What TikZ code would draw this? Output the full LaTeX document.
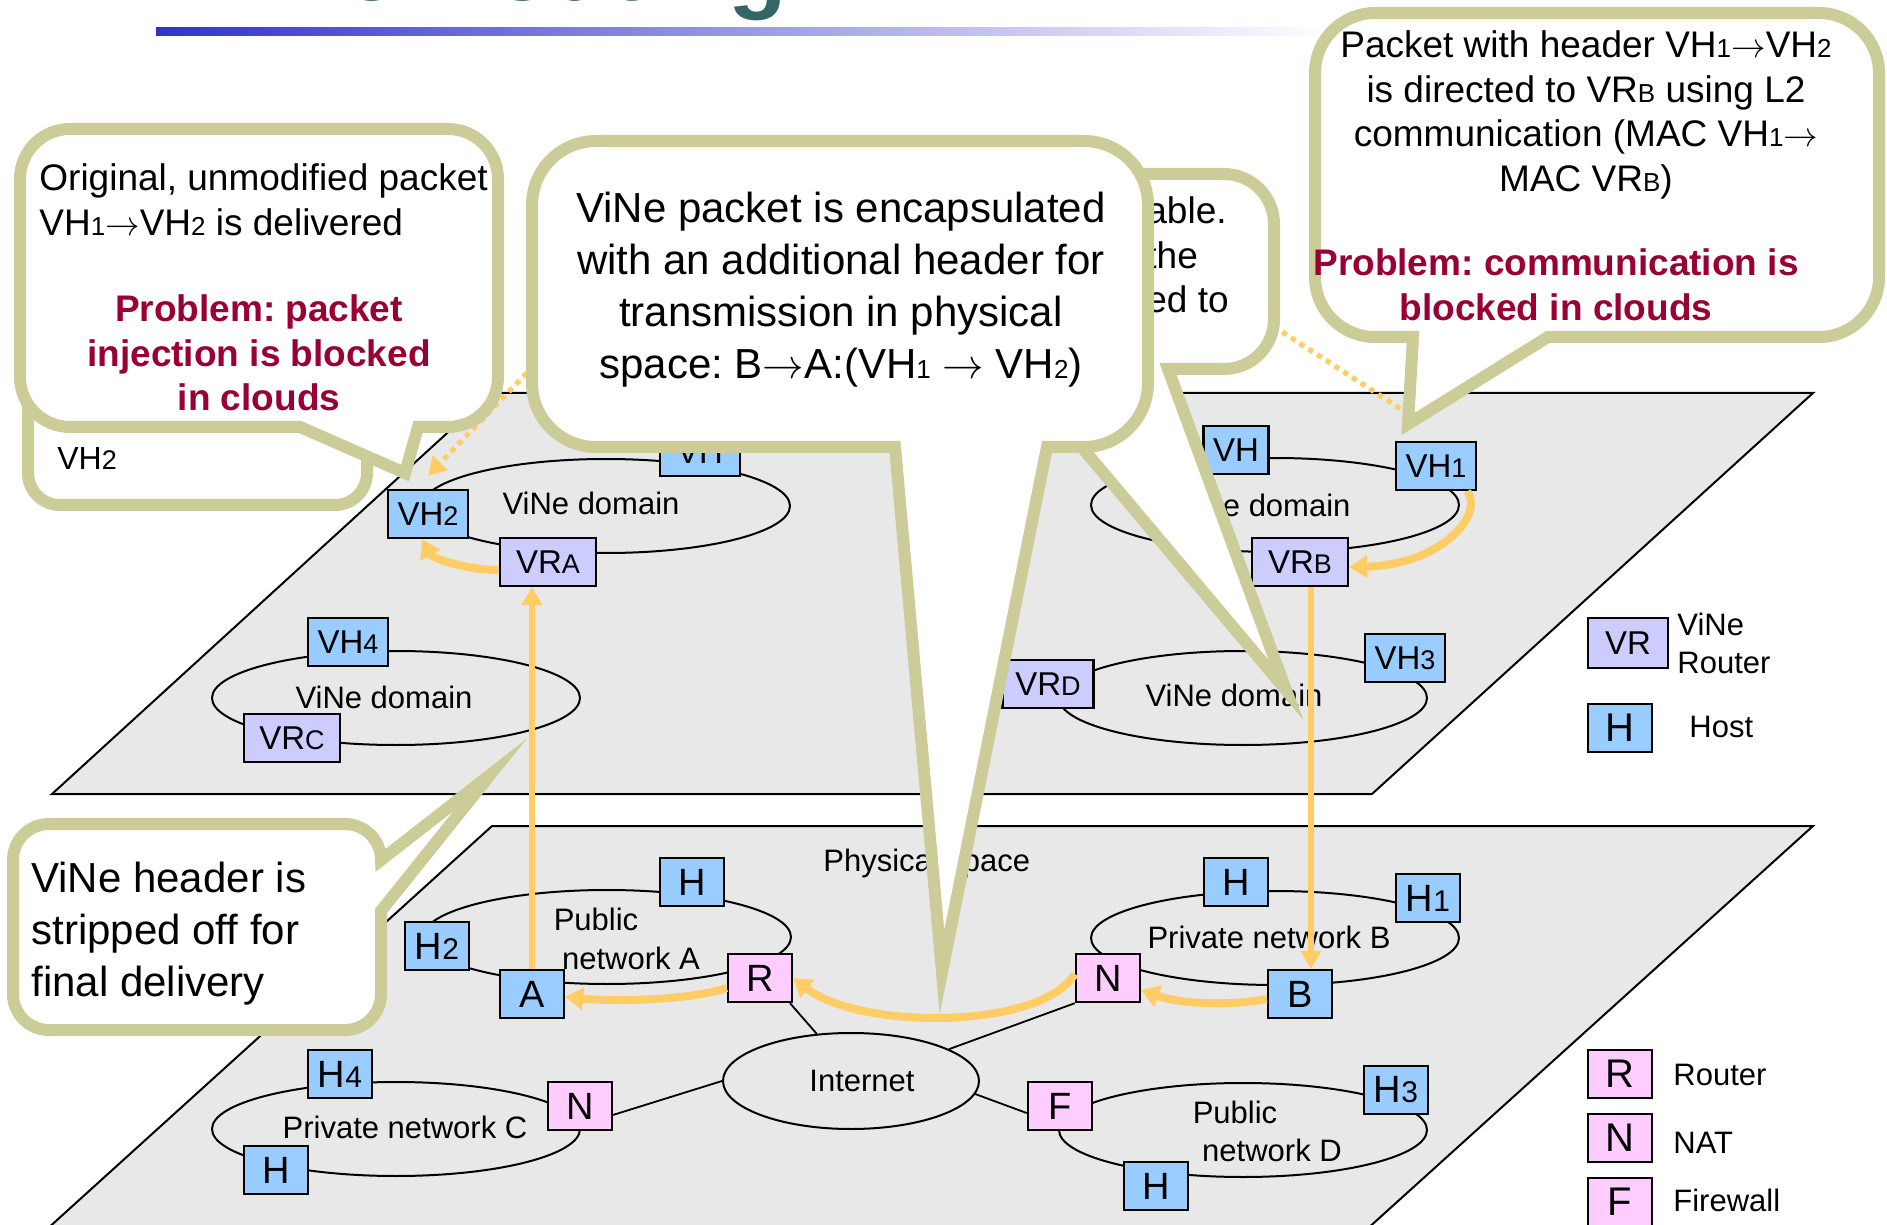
\documentclass[tikz,border=0pt]{standalone}
\usepackage{fontspec}
\setmainfont{Liberation Sans}
\usetikzlibrary{shapes.geometric,arrows.meta}

\definecolor{planegray}{RGB}{232,232,232}
\definecolor{hostblue}{RGB}{153,204,255}
\definecolor{vrlav}{RGB}{204,204,255}
\definecolor{netpink}{RGB}{255,204,255}
\definecolor{pathorange}{RGB}{255,204,102}
\definecolor{bubbleolive}{RGB}{204,204,153}
\definecolor{problemred}{RGB}{153,0,51}
\definecolor{titleteal}{RGB}{51,102,102}
\definecolor{barblue}{RGB}{51,51,204}

% smaller index characters, kept on the baseline
\newcommand{\calidx}[1]{{\fontsize{13pt}{13pt}\selectfont #1}}
\newcommand{\boxidx}[1]{{\fontsize{13.5pt}{13.5pt}\selectfont #1}}
\newcommand{\bigidx}[1]{{\fontsize{15pt}{15pt}\selectfont #1}}
% long thin arrow used in the packet headers
\newcommand{\hdrarrow}{$\rightarrow$}
\frenchspacing

\begin{document}
\begin{tikzpicture}[x=0.5pt,y=-0.5pt,
  planeface/.style={fill=planegray, draw=black, line width=1pt},
  domoval/.style={ellipse, draw=black, line width=1pt, inner sep=0pt,
                  minimum width=184pt, minimum height=47pt},
  lbl/.style={inner sep=0pt, font=\fontsize{15.5pt}{19pt}\selectfont},
  nbox/.style={draw=black, line width=1.2pt, inner sep=0pt, minimum height=24pt},
  hbox/.style={nbox, fill=hostblue},
  vrbox/.style={nbox, fill=vrlav},
  pbox/.style={nbox, fill=netpink},
  vtxt/.style={font=\fontsize{16.5pt}{18pt}\selectfont},
  ltxt/.style={font=\fontsize{19pt}{20pt}\selectfont, minimum width=32pt},
  lgtxt/.style={font=\fontsize{20pt}{21pt}\selectfont, minimum width=32pt},
  netlink/.style={draw=black, line width=0.9pt},
  flowv/.style={draw=pathorange, line width=2.8pt, -{Triangle[length=9pt,width=10pt]}},
  flowc/.style={draw=pathorange, line width=4pt, -{Triangle[length=9pt,width=11pt]}},
  flowdot/.style={draw=pathorange, line width=2.6pt, dash pattern=on 2.6pt off 2.6pt},
  bubble/.style={fill=white, draw=bubbleolive, line width=6pt, miter limit=20, line join=miter},
  ctxt/.style={inner sep=0pt, font=\fontsize{18.5pt}{22.3pt}\selectfont},
  cbig/.style={inner sep=0pt, font=\fontsize{21pt}{26pt}\selectfont},
  ptxt/.style={inner sep=0pt, text=problemred, font=\fontsize{18.5pt}{22.3pt}\selectfont\bfseries},
]
\useasboundingbox (0,0) rectangle (1887,1225);
\clip (0,0) rectangle (1887,1225);

% slide title and its gradient rule
\node[anchor=base west, inner sep=0pt, text=titleteal,
      font=\fontsize{48pt}{50pt}\selectfont\bfseries] (title) at (186,1) {ViNe Routing};
\shade[left color=barblue, right color=white] (156,28) rectangle (1330,36);

% the two layers: virtual (top) and physical (bottom)
\draw[planeface] (491,393) -- (1813,393) -- (1372,794) -- (52,794) -- cycle;
\draw[planeface] (492,826) -- (1813,826) -- (1355,1240) -- (35,1240) -- cycle;

% domains and networks
\node[domoval] (domA) at (606,506) {};
\node[domoval] (domB) at (1275,505) {};
\node[domoval] (domC) at (396,698) {};
\node[domoval] (domD) at (1243,698) {};
\node[domoval] (pubA) at (607,937) {};
\node[domoval] (privC) at (396,1129) {};
\node[domoval] (privB) at (1275,938) {};
\node[domoval] (pubD) at (1243,1130) {};
\node[ellipse, draw=black, line width=1pt, inner sep=0pt, minimum width=128pt,
      minimum height=48pt, lbl] (inet) at (851,1081) {\hspace{11pt}Internet};

\node[lbl] (tdA) at (591,503) {ViNe domain};
\node[lbl] (tdB) at (1262,505) {ViNe domain};
\node[lbl] (tdC) at (384,697) {ViNe domain};
\node[lbl] (tdD) at (1234,695) {ViNe domain};
\node[lbl] (tpubA1) at (596,919) {Public};
\node[lbl] (tpubA2) at (631,958) {network A};
\node[lbl] (tprivC) at (405,1127) {Private network C};
\node[lbl] (tprivB) at (1269,937) {Private network B};
\node[lbl] (tpubD1) at (1235,1112) {Public};
\node[lbl] (tpubD2) at (1272,1150) {network D};
\node[lbl, anchor=west] (tphys) at (823,863) {Physical space};

% virtual hosts and routers
\node[hbox,vtxt,minimum width=40pt] (vh2) at (428,514) {VH\boxidx{2}};
\node[vrbox,vtxt,minimum width=48pt] (vra) at (548,562) {VR\boxidx{A}};
\node[hbox,vtxt,minimum width=40pt] (vhtl) at (700,452) {VH};
\node[hbox,vtxt,minimum width=32.5pt] (vhtr) at (1236,450) {VH};
\node[hbox,vtxt,minimum width=40pt] (vh1) at (1436,466) {VH\boxidx{1}};
\node[vrbox,vtxt,minimum width=48pt] (vrb) at (1300,562) {VR\boxidx{B}};
\node[hbox,vtxt,minimum width=40pt] (vh4) at (348,642) {VH\boxidx{4}};
\node[vrbox,vtxt,minimum width=48pt] (vrc) at (292,738) {VR\boxidx{C}};
\node[vrbox,vtxt,minimum width=45.5pt] (vrd) at (1048,684) {VR\boxidx{D}};
\node[hbox,vtxt,minimum width=40pt] (vh3) at (1405,658) {VH\boxidx{3}};

% physical hosts, routers, NATs, firewall
\node[hbox,ltxt] (ha) at (692,882) {H};
\node[hbox,ltxt] (h2) at (437,946) {H\bigidx{2}};
\node[hbox,ltxt] (a) at (532,994) {A};
\node[pbox,ltxt] (r) at (760,978) {R};
\node[hbox,ltxt] (h4) at (340,1074) {H\bigidx{4}};
\node[pbox,ltxt] (nc) at (580,1106) {N};
\node[hbox,ltxt] (hc) at (276,1170) {H};
\node[hbox,ltxt] (hb) at (1236,882) {H};
\node[hbox,ltxt] (h1) at (1428,898) {H\bigidx{1}};
\node[pbox,ltxt] (nb) at (1108,978) {N};
\node[hbox,ltxt] (b) at (1300,994) {B};
\node[pbox,ltxt] (f) at (1060,1106) {F};
\node[hbox,ltxt] (h3) at (1396,1090) {H\bigidx{3}};
\node[hbox,ltxt] (hd) at (1156,1186) {H};

% links to the Internet
\draw[netlink] (r.-40) -- (inet.126);
\draw[netlink] (nc.-15) -- (inet.west);
\draw[netlink] (nb.south west) -- (inet.18);
\draw[netlink] (inet.-6) -- (f.192);

% legend
\node[vrbox,vtxt,minimum width=40pt,minimum height=25pt] (lgvr) at (1628,643) {VR};
\node[hbox,lgtxt] (lgh) at (1620,728) {H};
\node[pbox,lgtxt] (lgr) at (1620,1074) {R};
\node[pbox,lgtxt] (lgn) at (1620,1138) {N};
\node[pbox,lgtxt] (lgf) at (1620,1202) {F};
\node[lbl, anchor=west, align=left] (tlgvr) at (1677,643) {ViNe\\Router};
\node[lbl, anchor=west] (tlgh) at (1689,727) {Host};
\node[lbl, anchor=west] (tlgr) at (1673,1075) {Router};
\node[lbl, anchor=west] (tlgn) at (1673,1143) {NAT};
\node[lbl, anchor=west] (tlgf) at (1673,1200) {Firewall};

% packet path
\draw[flowc] ([xshift=-5pt]vh1.south east) .. controls (1485,515) and (1440,565) .. ([yshift=-2.5pt]vrb.east);
\draw[flowv] ([xshift=5.5pt]vrb.south) -- ([xshift=5.5pt]vrb.south |- b.north);
\draw[flowc] ([yshift=-2.5pt]b.west) .. controls (1230,1006) and (1180,1004) .. ([yshift=-6pt]nb.east);
\draw[flowc] ([yshift=2pt]nb.west) .. controls (1040,1030) and (860,1030) .. (r.east);
\draw[flowc] ([yshift=-5pt]r.west) .. controls (690,1000) and (620,1002) .. ([yshift=-1.5pt]a.east);
\draw[flowv] (a.north) -- (a.north |- vra.south);
\draw[flowc] ([yshift=-4pt]vra.west) .. controls (465,570) and (432,558) .. ([xshift=-3pt]vh2.south);

\coordinate (dotL) at (570,328);
\draw[flowdot, -{Triangle[length=9pt,width=10pt]}] (dotL) -- ([yshift=6.5pt]vh2.north);
\coordinate (dotR) at (1230,298);
\draw[flowdot] (dotR) -- ([shift={(9pt,12pt)}]vh1.north west);

% callouts
\draw[bubble, rounded corners=16pt] (28,280) rectangle (367,505);
\node[anchor=west, inner sep=0pt, font=\fontsize{16pt}{18pt}\selectfont] (c0) at (57,458) {VH\boxidx{2}};

\draw[bubble] (20,280) [rounded corners=25pt] -- (20,129) -- (498,129) -- (498,427)
  [sharp corners] -- (418,427) -- (405,473) -- (300,427)
  [rounded corners=25pt] -- (20,427) -- cycle;
\node[ctxt, anchor=west, align=left] (c1a) at (39,200)
  {Original, unmodified packet\\VH\calidx{1}\hdrarrow VH\calidx{2} is delivered};
\node[ptxt, align=center] (c1b) at (259,353) {Problem: packet\\injection is blocked\\in clouds};

\draw[bubble] (760,270) [rounded corners=25pt] -- (760,174) -- (1274,174) -- (1274,369)
  [sharp corners] -- (1168,369) -- (1286,690) -- (1016,369)
  [rounded corners=25pt] -- (760,369) -- cycle;
\node[ctxt, anchor=west, align=left] (c3) at (1146,255) {able.\\the\\ed to};

\draw[bubble] (532,300) [rounded corners=32pt] -- (532,141) -- (1148,141) -- (1148,447)
  [sharp corners] -- (1047,447) -- (942,972) -- (895,447)
  [rounded corners=32pt] -- (532,447) -- cycle;
\node[cbig, align=center] (c2) at (841,290)
  {ViNe packet is encapsulated\\with an additional header for\\transmission in physical\\space: B\hdrarrow A:(VH\calidx{1} \hdrarrow{} VH\calidx{2})};

\draw[bubble] (1315,150) [rounded corners=30pt] -- (1315,13) -- (1879,13) -- (1879,337)
  [sharp corners] -- (1548,337) -- (1408,424) -- (1413,337)
  [rounded corners=30pt] -- (1315,337) -- cycle;
\node[ctxt, align=center] (c4a) at (1586,115)
  {Packet with header VH\calidx{1}\hdrarrow VH\calidx{2}\\is directed to VR\calidx{B} using L2\\communication (MAC VH\calidx{1}\hdrarrow\\MAC VR\calidx{B})};
\node[ptxt, align=center] (c4b) at (1556,285) {Problem: communication is\\blocked in clouds};

\draw[bubble] (13,930) [rounded corners=18pt] -- (13,824) -- (381,824)
  [sharp corners] -- (381,860) -- (490,775) -- (381,911)
  [rounded corners=18pt] -- (381,1030) -- (13,1030) -- cycle;
\node[cbig, anchor=west, align=left] (c5) at (31,934) {ViNe header is\\stripped off for\\final delivery};

\end{tikzpicture}
\end{document}
